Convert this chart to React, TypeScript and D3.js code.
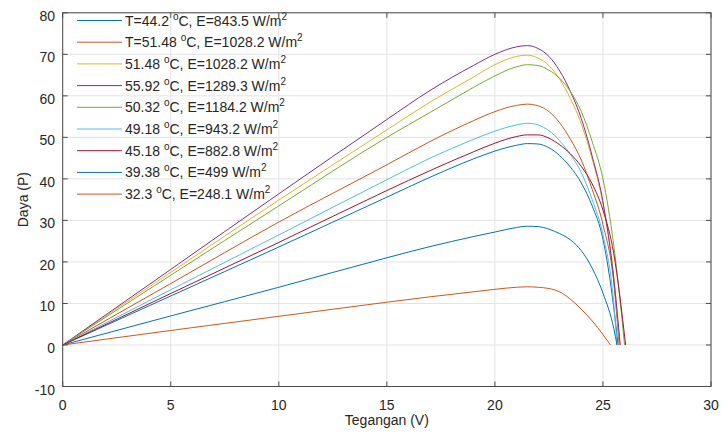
import * as d3 from "d3";

// tegangan (V) yang dipakai untuk membaca daya dari gambar
const voltage = [0, 5, 10, 15, 17, 19, 20, 21, 21.5, 22, 22.5, 23, 23.5, 24, 24.5, 25, 25.5];

// daya (W) per kurva; null = sudah lewat Voc
const p1 = [0, 11.8, 23.6, 35.6, 40.4, 44.8, 46.7, 48.1, 48.5, 48.4, 47.5, 45.6, 42.8, 39.0, 33.5, 25.5, 9.0];
const p2 = [0, 14.8, 29.6, 43.4, 49.0, 54.0, 56.2, 57.7, 58.0, 57.6, 56.2, 53.5, 49.5, 44.5, 37.5, 29.0, 15.0];
const p3 = [0, 17.5, 34.9, 51.8, 58.5, 64.5, 67.5, 69.5, 69.8, 69.1, 67.3, 64.0, 59.3, 53.2, 44.8, 34.0, 16.5];
const p4 = [0, 18.2, 36.4, 54.3, 61.3, 67.3, 70.0, 71.8, 72.1, 71.4, 69.5, 66.0, 61.0, 54.5, 45.5, 34.5, 16.0];
const p5 = [0, 16.8, 33.5, 50.0, 56.0, 62.0, 64.8, 67.0, 67.5, 67.3, 66.2, 64.2, 61.0, 56.2, 49.0, 40.0, 24.0];
const p6 = [0, 13.3, 26.5, 39.8, 45.0, 49.5, 51.5, 53.0, 53.4, 53.0, 51.6, 49.2, 45.8, 41.5, 35.0, 26.5, 10.0];
const p7 = [0, 12.4, 24.7, 37.2, 42.0, 46.5, 48.6, 50.2, 50.6, 50.6, 49.8, 48.2, 46.0, 43.0, 38.8, 32.5, 22.0];
const p8 = [0, 7.0, 13.9, 21.0, 23.7, 26.1, 27.2, 28.3, 28.6, 28.5, 27.9, 26.8, 25.3, 22.7, 18.5, 12.5, 4.0];
const p9 = [0, 3.5, 6.9, 10.3, 11.6, 12.8, 13.4, 13.9, 14.0, 13.9, 13.6, 12.8, 11.0, 8.6, 5.8, 2.5, null];

// tegangan open circuit tiap kurva
const voc = [25.7, 25.75, 25.78, 25.8, 26.0, 25.65, 26.05, 25.65, 25.35];

const legendTemp = ["T=44.2", "T=51.48", "51.48", "55.92", "50.32", "49.18", "45.18", "39.38", "32.3"];
const legendIrr = ["843.5", "1028.2", "1028.2", "1289.3", "1184.2", "943.2", "882.8", "499", "248.1"];

const colors = ["#0072BD", "#D95319", "#EDB120", "#7E2F8E", "#77AC30", "#4DBEEE", "#A2142F", "#0072BD", "#D95319"];

const xTicks = [0, 5, 10, 15, 20, 25, 30];
const yTicks = [-10, 0, 10, 20, 30, 40, 50, 60, 70, 80];

const W = 722;
const H = 439;
const margin = { top: 12.8, bottom: 52.5, left: 62.7, right: 11 };

const font = "'Liberation Sans', Arial, sans-serif";

export default function App() {
  const powers = [p1, p2, p3, p4, p5, p6, p7, p8, p9];

  const x = d3.scaleLinear().domain([0, 30]).range([margin.left, W - margin.right]);
  const y = d3.scaleLinear().domain([-10, 80]).range([H - margin.bottom, margin.top]);

  const line = d3
    .line<[number, number]>()
    .x((d) => x(d[0]))
    .y((d) => y(d[1]))
    .curve(d3.curveMonotoneX);

  const series = powers.map((p, i) => {
    const pts: [number, number][] = [];
    voltage.forEach((v, j) => {
      if (p[j] != null) pts.push([v, p[j] as number]);
    });
    pts.push([voc[i], 0]);
    return pts;
  });

  const x0 = margin.left;
  const x1 = W - margin.right;
  const y0 = margin.top;
  const y1 = H - margin.bottom;
  const tick = 5;
  const axisColor = "#4a4a4a";

  const legY0 = 20.5;
  const legStep = 21.7;

  return (
    <svg
      width={W}
      height={H}
      style={{ position: "absolute", left: 0, top: 0, background: "#fff" }}
      fontFamily={font}
    >
      <rect x={0} y={0} width={W} height={H} fill="#fff" />

      {/* grid */}
      {xTicks.map((t) => (
        <line key={"gx" + t} x1={x(t)} x2={x(t)} y1={y0} y2={y1} stroke="#e3e3e3" strokeWidth={1} />
      ))}
      {yTicks.map((t) => (
        <line key={"gy" + t} x1={x0} x2={x1} y1={y(t)} y2={y(t)} stroke="#e3e3e3" strokeWidth={1} />
      ))}

      {/* kurva */}
      {series.map((s, i) => (
        <path key={"s" + i} d={line(s) || ""} fill="none" stroke={colors[i]} strokeWidth={1} />
      ))}

      {/* legend */}
      {legendTemp.map((t, i) => {
        const ly = legY0 + i * legStep;
        return (
          <g key={"l" + i}>
            <line x1={77} x2={122} y1={ly} y2={ly} stroke={colors[i]} strokeWidth={1} />
            <text x={125} y={ly + 5} fontSize={14} fill="#262626">
              <tspan>{t + "\u00a0"}</tspan>
              <tspan fontSize={10} dy={-6}>o</tspan>
              <tspan dy={6}>{"C, E=" + legendIrr[i] + "\u00a0W/m"}</tspan>
              <tspan fontSize={10} dy={-6}>2</tspan>
            </text>
          </g>
        );
      })}

      {/* kotak axis */}
      <rect x={x0} y={y0} width={x1 - x0} height={y1 - y0} fill="none" stroke={axisColor} strokeWidth={1} />

      {xTicks.map((t) => (
        <g key={"tx" + t}>
          <line x1={x(t)} x2={x(t)} y1={y1} y2={y1 - tick} stroke={axisColor} />
          <line x1={x(t)} x2={x(t)} y1={y0} y2={y0 + tick} stroke={axisColor} />
          <text x={x(t)} y={y1 + 23} textAnchor="middle" fontSize={14} fill="#262626">
            {t}
          </text>
        </g>
      ))}
      {yTicks.map((t) => (
        <g key={"ty" + t}>
          <line x1={x0} x2={x0 + tick} y1={y(t)} y2={y(t)} stroke={axisColor} />
          <line x1={x1} x2={x1 - tick} y1={y(t)} y2={y(t)} stroke={axisColor} />
          <text x={55} y={y(t) + 8} textAnchor="end" fontSize={14} fill="#262626">
            {t}
          </text>
        </g>
      ))}

      <text x={(x0 + x1) / 2} y={425} textAnchor="middle" fontSize={14} fill="#262626">
        Tegangan (V)
      </text>
      <text transform={`translate(28, ${(y0 + y1) / 2}) rotate(-90)`} textAnchor="middle" fontSize={14} fill="#262626">
        Daya (P)
      </text>
    </svg>
  );
}
